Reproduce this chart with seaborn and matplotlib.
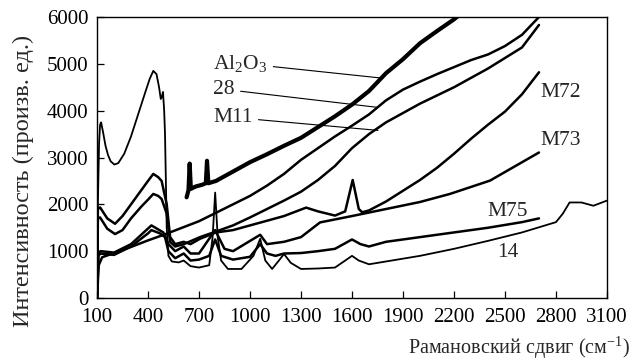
import matplotlib
matplotlib.use("Agg")
import matplotlib.pyplot as plt
import seaborn as sns
import pandas as pd

# Raman spectra (shift in cm^-1, intensity in arb. units)
al2o3_x = [627, 638, 645, 652, 680, 720, 740, 747, 755, 800, 900, 1000, 1100, 1200,
           1300, 1400, 1500, 1600, 1700, 1800, 1900, 2000, 2100, 2200, 2250]
al2o3_y = [2150, 2300, 2870, 2330, 2380, 2420, 2450, 2930, 2450, 2500, 2700, 2900, 3070,
           3250, 3420, 3650, 3880, 4130, 4420, 4800, 5100, 5440, 5700, 5950, 6100]

s28_x = [100, 110, 130, 200, 300, 400, 500, 600, 700, 800, 900, 1000, 1100, 1200, 1300,
         1400, 1500, 1600, 1700, 1800, 1900, 2000, 2100, 2200, 2300, 2400, 2500, 2600, 2700]
s28_y = [0, 700, 870, 960, 1090, 1230, 1360, 1500, 1640, 1820, 2000, 2180, 2400, 2650, 2950,
         3200, 3450, 3680, 3920, 4220, 4450, 4620, 4780, 4930, 5080, 5200, 5380, 5620, 6000]

m11_x = [100, 105, 118, 160, 206, 250, 300, 360, 400, 431, 460, 480, 510, 530, 560, 610,
         706, 800, 900, 1000, 1100, 1200, 1300, 1400, 1500, 1600, 1700, 1800, 2000, 2200,
         2400, 2600, 2700]
m11_y = [0, 1700, 1720, 1480, 1365, 1450, 1700, 1950, 2100, 2222, 2180, 2115, 1800, 1200,
         1100, 1150, 1300, 1420, 1550, 1720, 1900, 2080, 2270, 2520, 2820, 3200, 3500, 3750,
         4150, 4500, 4900, 5350, 5830]

m72_x = [100, 105, 118, 160, 206, 250, 300, 360, 400, 431, 460, 480, 510, 530, 560, 610,
         650, 706, 800, 900, 1000, 1100, 1200, 1330, 1400, 1500, 1560, 1604, 1640, 1660,
         1700, 1800, 1900, 2000, 2100, 2200, 2300, 2400, 2500, 2600, 2700]
m72_y = [0, 1900, 1935, 1700, 1585, 1750, 2000, 2300, 2500, 2650, 2580, 2500, 2000, 1300,
         1150, 1200, 1150, 1265, 1400, 1450, 1550, 1650, 1750, 1930, 1850, 1760, 1850, 2520,
         1900, 1830, 1870, 2060, 2290, 2520, 2780, 3080, 3400, 3700, 3980, 4350, 4820]

m73_x = [100, 108, 120, 200, 300, 420, 490, 520, 560, 610, 650, 700, 795, 850, 900, 1060,
         1100, 1200, 1300, 1412, 1600, 1800, 2000, 2176, 2412, 2700]
m73_y = [0, 950, 1000, 970, 1150, 1550, 1400, 1150, 1000, 1100, 950, 950, 1450, 1050, 1000,
         1350, 1150, 1200, 1300, 1614, 1750, 1900, 2050, 2222, 2507, 3107]

m75_x = [100, 108, 120, 200, 300, 400, 420, 470, 500, 520, 560, 610, 650, 700, 760, 795,
         830, 900, 1000, 1060, 1100, 1150, 1200, 1300, 1400, 1500, 1600, 1650, 1700, 1800,
         2000, 2200, 2400, 2600, 2700]
m75_y = [0, 900, 950, 920, 1100, 1380, 1450, 1380, 1300, 1000, 850, 950, 800, 820, 900,
         1250, 900, 820, 880, 1150, 950, 900, 950, 960, 1000, 1050, 1250, 1150, 1100, 1200,
         1300, 1400, 1500, 1620, 1700]

s14_x = [100, 105, 112, 118, 124, 135, 150, 165, 180, 202, 225, 260, 300, 340, 380, 410,
         431, 450, 465, 475, 482, 488, 495, 500, 510, 520, 540, 580, 610, 650, 700, 760,
         780, 795, 810, 830, 870, 950, 1020, 1060, 1090, 1130, 1170, 1200, 1240, 1300, 1400,
         1500, 1560, 1600, 1640, 1700, 1800, 2000, 2200, 2400, 2600, 2800, 2840, 2880, 2950,
         3020, 3100]
s14_y = [0, 2000, 3300, 3700, 3750, 3550, 3250, 3050, 2920, 2850, 2880, 3080, 3450, 3900,
         4350, 4680, 4850, 4780, 4500, 4250, 4300, 4400, 4000, 3500, 1500, 900, 780, 760,
         800, 680, 650, 700, 1300, 2250, 1300, 800, 620, 620, 900, 1265, 800, 620, 800, 940,
         750, 620, 630, 650, 800, 900, 800, 720, 780, 900, 1050, 1220, 1400, 1620, 1800,
         2040, 2040, 1970, 2080]

x_ticks = [100, 400, 700, 1000, 1300, 1600, 1900, 2200, 2500, 2800, 3100]
y_ticks = [0, 1000, 2000, 3000, 4000, 5000, 6000]

spectra = [
    ("Al$_2$O$_3$", al2o3_x, al2o3_y, 3.0),
    ("28", s28_x, s28_y, 1.8),
    ("M11", m11_x, m11_y, 1.8),
    ("M72", m72_x, m72_y, 1.8),
    ("M73", m73_x, m73_y, 1.8),
    ("M75", m75_x, m75_y, 1.8),
    ("14", s14_x, s14_y, 1.3),
]

sns.set_theme(style="ticks")
plt.rcParams["font.family"] = ["Liberation Serif", "DejaVu Serif"]
plt.rcParams["mathtext.fontset"] = "custom"
plt.rcParams["mathtext.rm"] = "Liberation Serif"
plt.rcParams["mathtext.it"] = "Liberation Serif"

fig = plt.figure(figsize=(6.4, 3.62), dpi=100)
ax = fig.add_axes([0.1516, 0.1768, 0.7968, 0.7762])

for name, xs, ys, lw in spectra:
    df = pd.DataFrame({"shift": xs, "intensity": ys})
    sns.lineplot(data=df, x="shift", y="intensity", ax=ax, color="black",
                 linewidth=lw, sort=False, estimator=None)

ax.set_xlim(100, 3100)
ax.set_ylim(0, 6000)
ax.set_xticks(x_ticks)
ax.set_yticks(y_ticks)
ax.tick_params(direction="in", length=5, width=0.9, labelsize=15, colors="black")
ax.tick_params(axis="x", pad=7)
ax.tick_params(axis="y", pad=6)
for sp in ax.spines.values():
    sp.set_linewidth(1.0)
    sp.set_color("black")
ax.set_xlabel("")
ax.set_ylabel("")

fig.text(0.037, 0.50, "Интенсивность (произв. ед.)", rotation=90, ha="center",
         va="center", fontsize=17.5)
fig.text(0.985, 0.04, "Рамановский сдвиг (см$^{-1}$)", ha="right", va="center",
         fontsize=14.5)

# curve labels with leader lines
leader = dict(arrowstyle="-", color="black", lw=0.8, shrinkA=2, shrinkB=0)
ax.annotate("Al$_2$O$_3$", xy=(1782, 4693), xytext=(782, 5015), fontsize=15.5,
            va="center", ha="left", arrowprops=leader)
ax.annotate("28", xy=(1747, 4072), xytext=(782, 4457), fontsize=15.5,
            va="center", ha="left", arrowprops=leader)
ax.annotate("M11", xy=(1753, 3579), xytext=(782, 3857), fontsize=15.5,
            va="center", ha="left", arrowprops=leader)
ax.text(2706, 4393, "M72", fontsize=15.5, va="center", ha="left")
ax.text(2706, 3364, "M73", fontsize=15.5, va="center", ha="left")
ax.text(2394, 1843, "M75", fontsize=15.5, va="center", ha="left")
ax.text(2453, 964, "14", fontsize=15.5, va="center", ha="left")

fig.savefig("out.png", dpi=100)
